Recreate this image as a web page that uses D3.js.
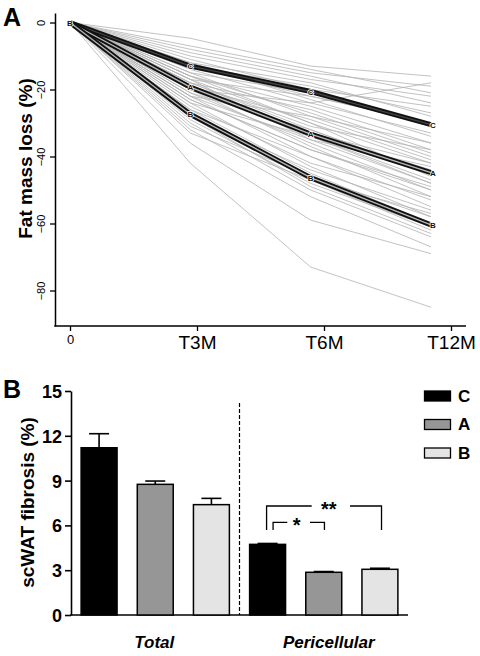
<!DOCTYPE html>
<html><head><meta charset="utf-8">
<script src="https://cdn.jsdelivr.net/npm/d3@7"></script>
<style>
html,body{margin:0;padding:0;background:#fff;}
svg{display:block;font-family:Arial,"Liberation Sans",sans-serif;}
</style></head>
<body>
<svg id="chart" width="480" height="656"></svg>
<script>
// ---------- Panel A data ----------
const timeLabels = ["0", "T3M", "T6M", "T12M"];
const meanGroups = ["C", "A", "B"];
const meanC = [0, -13.0, -20.6, -30.5];
const meanA = [0, -19.3, -33.3, -44.8];
const meanB = [0, -27.4, -46.3, -60.4];
const yTicksA = [0, -20, -40, -60, -80];
// individual trajectories (T3M, T6M, T12M), baseline 0
const indiv = [
  [-4.7,-13,-16],[-8,-15,-19],[-10,-17,-22],[-11,-20,-25],[-12,-18,-28],[-13,-22,-30],
  [-14,-24,-33],[-15,-21,-31],[-16,-25,-36],[-13,-19,-27],[-18,-26,-38],[-9,-16,-24],
  [-12,-23,-34],[-17,-22,-30],[-7,-14,-21],[-20,-24,-18],
  [-15,-28,-40],[-17,-30,-42],[-18,-32,-45],[-19,-34,-47],[-20,-33,-44],[-21,-36,-50],
  [-22,-35,-48],[-16,-30,-46],[-18,-31,-38],[-20,-37,-52],[-23,-38,-49],[-19,-29,-41],
  [-17,-35,-43],[-21,-32,-45],[-24,-34,-48],[-16,-27,-39],[-20,-33,-42],[-22,-28,-36],
  [-22,-40,-55],[-24,-43,-58],[-26,-45,-60],[-27,-47,-62],[-28,-44,-56],[-30,-50,-64],
  [-32,-52,-67],[-25,-42,-52],[-29,-48,-61],[-36,-59,-69],[-42,-73,-85],[-23,-38,-50],
  [-31,-46,-58],[-28,-49,-63],[-26,-40,-53],[-33,-47,-57]
];

// ---------- Panel B data ----------
const regions = ["Total", "Pericellular"];
const groupsB = ["C", "A", "B"];
const fibMean = { Total: [11.2, 8.75, 7.39], Pericellular: [4.73, 2.86, 3.06] };
const fibErr  = { Total: [0.94, 0.22, 0.42], Pericellular: [0.06, 0.05, 0.07] };
const yTicksB = [0, 3, 6, 9, 12, 15];
const barColors = ["#000000", "#969696", "#e4e4e4"];
const sigLabels = ["*", "**"];

const svg = d3.select("#chart");
const font = 'Arial,"Liberation Sans",sans-serif';

// ================= Panel A =================
const yA = d3.scaleLinear().domain([2.84, -90.6]).range([13, 326]);
const xTick = d3.scaleLinear().domain([0, 3]).range([70, 451]);
const xData = d3.scaleLinear().domain([0, 3]).range([70, 431]);

const gA = svg.append("g");
// y axis
const yAxA = gA.append("g").attr("transform", "translate(55,0)")
  .call(d3.axisLeft(yA).tickValues(yTicksA).tickSize(5).tickSizeOuter(0).tickFormat(d3.format("d")));
yAxA.select(".domain").attr("stroke-width", 1.5);
yAxA.selectAll(".tick line").attr("stroke-width", 1.3);
yAxA.selectAll(".tick text").attr("font-size", 11).attr("font-family", font)
  .attr("transform", "rotate(-90)").attr("x", 0).attr("y", -10)
  .attr("text-anchor", "middle").attr("dy", "0");
// x axis
const xAxA = gA.append("g").attr("transform", "translate(0,326)")
  .call(d3.axisBottom(xTick).tickValues([0,1,2,3]).tickSize(5).tickFormat(i => timeLabels[i]));
xAxA.select(".domain").remove();
xAxA.selectAll(".tick line").attr("stroke-width", 1.3);
xAxA.selectAll(".tick text").attr("font-family", font).attr("fill", "#000")
  .attr("font-size", (d) => d === 0 ? 13 : 19).attr("y", d => d === 0 ? 9 : 10);
gA.append("line").attr("x1", 54.3).attr("x2", 466).attr("y1", 326).attr("y2", 326)
  .attr("stroke", "#000").attr("stroke-width", 1.5);

const lineA = d3.line().x((d, i) => xData(i)).y(d => yA(d));
gA.append("g").selectAll("path").data(indiv).join("path")
  .attr("d", d => lineA([0, ...d]))
  .attr("fill", "none").attr("stroke", "#b4b4b4").attr("stroke-width", 0.9).attr("opacity", 0.9);

const means = [meanC, meanA, meanB];
const coreCol = ["#444", "#b8b8b8", "#b8b8b8"];
means.forEach((m, k) => {
  const g = gA.append("g");
  g.append("path").attr("d", lineA(m)).attr("fill", "none").attr("stroke", "#111").attr("stroke-width", 5);
  g.append("path").attr("d", lineA(m)).attr("fill", "none").attr("stroke", coreCol[k]).attr("stroke-width", 1.3);
  g.selectAll("text").data(m).join("text")
    .attr("x", (d, i) => xData(i) + (i === 3 ? 2 : 0)).attr("y", d => yA(d) + 3)
    .attr("text-anchor", "middle").attr("font-size", 8).attr("font-weight", "bold")
    .attr("font-family", font).attr("fill", "#111")
    .attr("stroke", "#fff").attr("stroke-width", 1.5).attr("paint-order", "stroke")
    .text(meanGroups[k]);
});

gA.append("text").attr("transform", "translate(32,158.5) rotate(-90)")
  .attr("text-anchor", "middle").attr("font-size", 19).attr("font-weight", "bold")
  .attr("font-family", font).text("Fat mass loss (%)");
svg.append("text").attr("x", 3).attr("y", 26).attr("font-size", 25).attr("font-weight", "bold")
  .attr("font-family", font).text("A");

// ================= Panel B =================
const yB = d3.scaleLinear().domain([0, 15]).range([615, 391]);
const slots = [];
regions.forEach(r => groupsB.forEach((g, j) => slots.push({ region: r, group: g, j,
  value: fibMean[r][j], err: fibErr[r][j] })));
const xB = d3.scaleBand().domain(slots.map((d, i) => i)).range([71, 408])
  .paddingInner(0.36).paddingOuter(0.18);
const gB = svg.append("g");

const yAxB = gB.append("g").attr("transform", "translate(71,0)")
  .call(d3.axisLeft(yB).tickValues(yTicksB).tickSize(6).tickSizeOuter(0));
yAxB.select(".domain").attr("stroke-width", 1.6);
yAxB.selectAll(".tick line").attr("stroke-width", 1.6);
yAxB.selectAll(".tick text").attr("font-size", 18).attr("font-weight", "bold")
  .attr("font-family", font).attr("x", -9).attr("dy", "0.36em");
gB.append("line").attr("x1", 70.2).attr("x2", 408).attr("y1", 615).attr("y2", 615)
  .attr("stroke", "#000").attr("stroke-width", 1.6);

// error bars
gB.append("g").selectAll("g").data(slots).join("g").each(function(d, i) {
  const cx = xB(i) + xB.bandwidth() / 2;
  const g = d3.select(this);
  g.append("line").attr("x1", cx).attr("x2", cx).attr("y1", yB(d.value)).attr("y2", yB(d.value + d.err))
    .attr("stroke", "#000").attr("stroke-width", 1.6);
  g.append("line").attr("x1", cx - 10).attr("x2", cx + 10).attr("y1", yB(d.value + d.err)).attr("y2", yB(d.value + d.err))
    .attr("stroke", "#000").attr("stroke-width", 1.6);
});
// bars
gB.append("g").selectAll("rect").data(slots).join("rect")
  .attr("x", (d, i) => xB(i)).attr("width", xB.bandwidth())
  .attr("y", d => yB(d.value)).attr("height", d => yB(0) - yB(d.value))
  .attr("fill", d => barColors[d.j]).attr("stroke", "#000").attr("stroke-width", 1.5);

// dashed separator
const sepX = (xB(2) + xB.bandwidth() + xB(3)) / 2;
gB.append("line").attr("x1", sepX).attr("x2", sepX).attr("y1", 403).attr("y2", 615)
  .attr("stroke", "#000").attr("stroke-width", 1.2).attr("stroke-dasharray", "4,2");

// region labels
regions.forEach((r, k) => {
  const cx = xB(k * 3 + 1) + xB.bandwidth() / 2 + (k === 1 ? 5 : -1);
  gB.append("text").attr("x", cx).attr("y", 648).attr("text-anchor", "middle")
    .attr("font-size", 17).attr("font-weight", "bold").attr("font-style", "italic")
    .attr("font-family", font).text(r);
});

// significance brackets
const brackets = [
  { a: 3, b: 5, top: 7.3, bot: 5.7, label: sigLabels[1], off: -1, gap: [311.7, 350] },
  { a: 3, b: 4, top: 6.2, bot: 5.7, label: sigLabels[0], off: 5.5, gap: [287.3, 310] }
];
brackets.forEach(br => {
  const x1 = xB(br.a) + xB.bandwidth() / 2 + br.off;
  const x2 = xB(br.b) + xB.bandwidth() / 2 + (br.label === "**" ? 1.6 : 0.7);
  const mid = (br.gap[0] + br.gap[1]) / 2;
  const yt = yB(br.top), yb = yB(br.bot);
  gB.append("path").attr("d", `M${x1},${yb}V${yt}H${br.gap[0]}M${br.gap[1]},${yt}H${x2}V${yb}`)
    .attr("fill", "none").attr("stroke", "#000").attr("stroke-width", 1.3);
  gB.append("text").attr("x", mid - 2).attr("y", yt + 10).attr("text-anchor", "middle")
    .attr("font-size", 20).attr("font-weight", "bold").attr("font-family", font).text(br.label);
});

// legend
groupsB.forEach((g, j) => {
  const yy = 391 + j * 28.5;
  svg.append("rect").attr("x", 424.5).attr("y", yy).attr("width", 26).attr("height", 10)
    .attr("fill", barColors[j]).attr("stroke", "#000").attr("stroke-width", 1.3);
  svg.append("text").attr("x", 458).attr("y", yy + 10.5).attr("font-size", 17).attr("font-weight", "bold")
    .attr("font-family", font).text(g);
});

gB.append("text").attr("transform", "translate(34,502.5) rotate(-90)")
  .attr("text-anchor", "middle").attr("font-size", 19).attr("font-weight", "bold")
  .attr("font-family", font).text("scWAT fibrosis (%)");
svg.append("text").attr("x", 3).attr("y", 398).attr("font-size", 25).attr("font-weight", "bold")
  .attr("font-family", font).text("B");
</script>
</body></html>
